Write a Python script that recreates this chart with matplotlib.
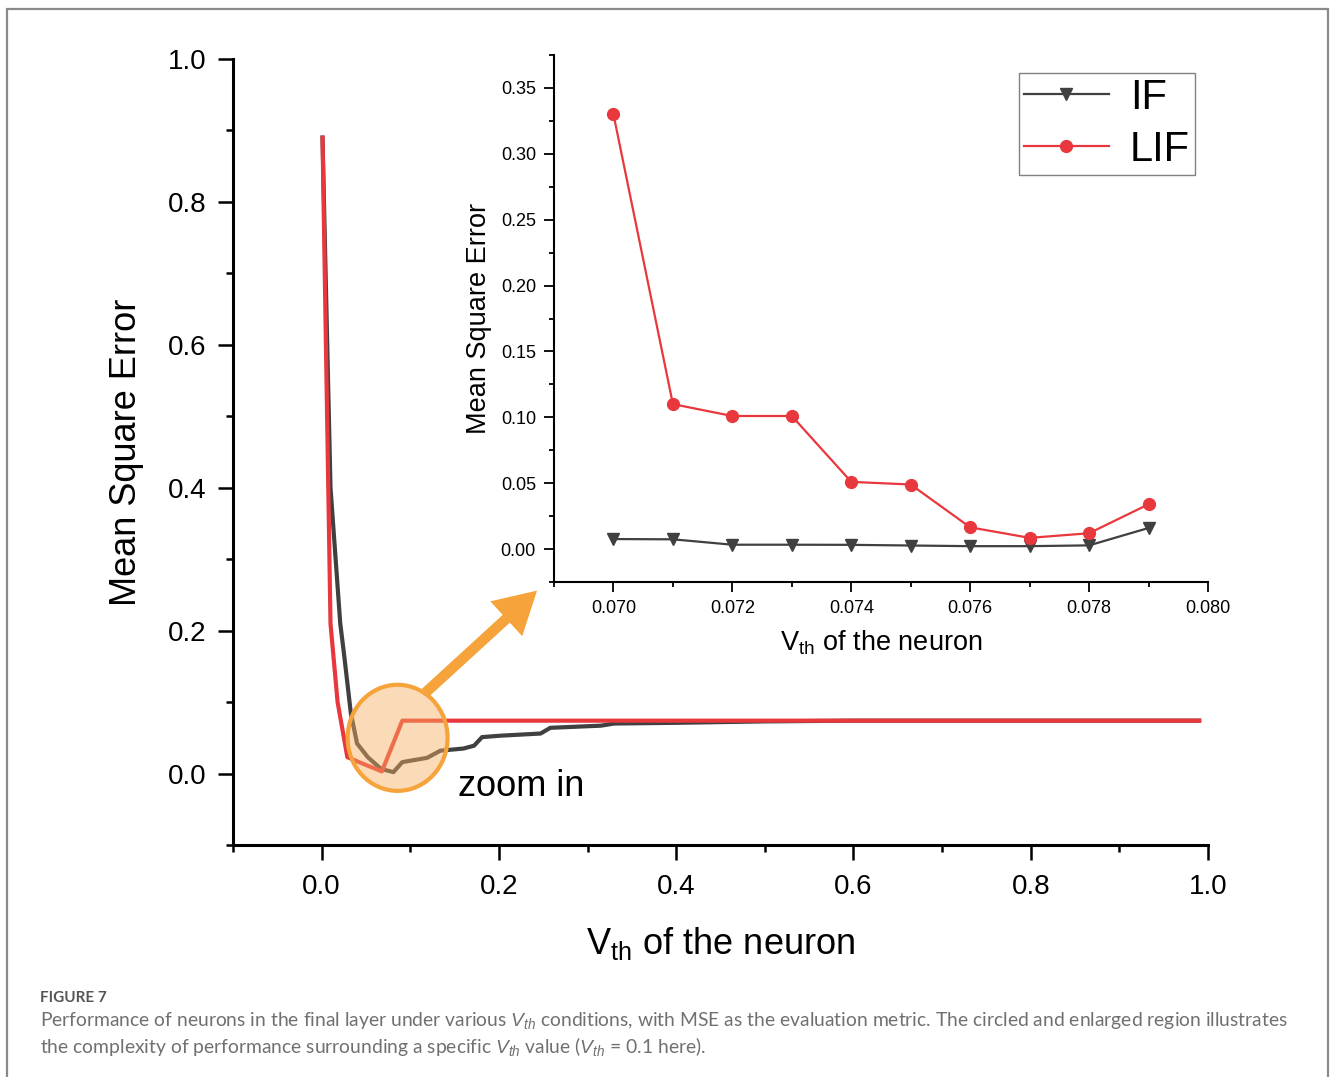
import matplotlib
matplotlib.use("Agg")
import matplotlib.pyplot as plt
from matplotlib.patches import Ellipse, Rectangle, FancyArrowPatch
from matplotlib.ticker import MultipleLocator

plt.rcParams['font.family'] = ['Liberation Sans', 'DejaVu Sans']
plt.rcParams['mathtext.fontset'] = 'custom'
plt.rcParams['mathtext.rm'] = 'Liberation Sans'
plt.rcParams['mathtext.it'] = 'Liberation Sans:italic'

# ---- data: main plot ----
if_main_x = [0.001, 0.010, 0.021, 0.025, 0.033, 0.040, 0.052, 0.067, 0.081, 0.091,
             0.119, 0.134, 0.160, 0.172, 0.181, 0.202, 0.247, 0.258, 0.315, 0.330,
             0.400, 0.500, 0.600, 0.990]
if_main_y = [0.89, 0.40, 0.21, 0.17, 0.084, 0.042, 0.023, 0.0065, 0.002, 0.016,
             0.022, 0.032, 0.035, 0.039, 0.051, 0.053, 0.056, 0.064, 0.067, 0.070,
             0.071, 0.073, 0.074, 0.074]
lif_main_x = [0.001, 0.010, 0.018, 0.029, 0.046, 0.068, 0.091, 0.990]
lif_main_y = [0.89, 0.21, 0.10, 0.023, 0.014, 0.003, 0.074, 0.074]

# ---- data: inset ----
inset_x = [0.070, 0.071, 0.072, 0.073, 0.074, 0.075, 0.076, 0.077, 0.078, 0.079]
if_inset = [0.0076, 0.0074, 0.0033, 0.0033, 0.0032, 0.0027, 0.0022, 0.0022, 0.0028, 0.0160]
lif_inset = [0.330, 0.110, 0.101, 0.101, 0.051, 0.049, 0.0165, 0.0085, 0.0120, 0.0340]

series_names = ["IF", "LIF"]
caption_title = "FIGURE 7"
caption_text = ("Performance of neurons in the final layer under various $V_{th}$ conditions, "
                "with MSE as the evaluation metric. The circled and enlarged region illustrates\n"
                "the complexity of performance surrounding a specific $V_{th}$ value "
                "($V_{th}$ = 0.1 here).")

C_IF = '#404040'
C_LIF = '#e8383d'
C_OR = '#f5a33a'

W, H = 1330, 1077
fig = plt.figure(figsize=(W / 100, H / 100), dpi=100)

# outer frame
fig.patches.append(Rectangle((7 / W, -0.02), (1328 - 7) / W, 1 - 9 / H + 0.02,
                             transform=fig.transFigure, fill=False,
                             edgecolor='#8a8a8a', lw=1.6, zorder=0))

# ---- main axes ----
ax = fig.add_axes([233 / W, 1 - 845 / H, (1208 - 233) / W, (845 - 59) / H])
ax.plot(if_main_x, if_main_y, color=C_IF, lw=3.0, solid_joinstyle='round')
ax.plot(lif_main_x, lif_main_y, color=C_LIF, lw=3.0, solid_joinstyle='round')
ax.set_xlim(-0.1, 1.0)
ax.set_ylim(-0.1, 1.0)
ax.xaxis.set_minor_locator(MultipleLocator(0.1))
ax.yaxis.set_minor_locator(MultipleLocator(0.1))
ax.set_xticks([0.0, 0.2, 0.4, 0.6, 0.8, 1.0])
ax.set_yticks([0.0, 0.2, 0.4, 0.6, 0.8, 1.0])
ax.set_xticklabels(['0.0', '0.2', '0.4', '0.6', '0.8', '1.0'])
ax.set_yticklabels(['0.0', '0.2', '0.4', '0.6', '0.8', '1.0'])
for s in ['top', 'right']:
    ax.spines[s].set_visible(False)
for s in ['left', 'bottom']:
    ax.spines[s].set_linewidth(2.2)
ax.tick_params(which='major', direction='out', length=11, width=1.8, labelsize=20, pad=8)
ax.tick_params(axis='x', which='major', pad=10)
ax.tick_params(which='minor', direction='out', length=5, width=1.8)
ax.set_ylabel('Mean Square Error', fontsize=26, labelpad=17)
ax.set_xlabel('V$_{\\mathrm{th}}$ of the neuron', fontsize=26, labelpad=18)

# circle highlight
circ = Ellipse((0.0857, 0.050), 100 / 887, 106 / 714, facecolor='#f7b060', alpha=0.45,
               edgecolor='none', zorder=5)
ax.add_patch(circ)
circ_e = Ellipse((0.0857, 0.050), 100 / 887, 106 / 714, facecolor='none',
                 edgecolor=C_OR, lw=3.0, zorder=6)
ax.add_patch(circ_e)

arrow = FancyArrowPatch((0.117, 0.113), (0.243, 0.256),
                        arrowstyle='simple,head_width=1.7,head_length=1.5,tail_width=0.38',
                        mutation_scale=20, color=C_OR, lw=0, zorder=6,
                        shrinkA=0, shrinkB=0)
ax.add_patch(arrow)
ax.text(0.225, -0.018, 'zoom in', fontsize=26, ha='center', va='center', zorder=7)

# ---- inset ----
axi = fig.add_axes([554 / W, 1 - 582 / H, (1208 - 554) / W, (582 - 55) / H])
axi.plot(inset_x, if_inset, color=C_IF, lw=1.6, marker='v', ms=9, label=series_names[0])
axi.plot(inset_x, lif_inset, color=C_LIF, lw=1.6, marker='o', ms=8.5, label=series_names[1])
axi.set_xlim(0.069, 0.080)
axi.set_ylim(-0.025, 0.375)
axi.set_xticks([0.070, 0.072, 0.074, 0.076, 0.078, 0.080])
axi.set_xticklabels(['0.070', '0.072', '0.074', '0.076', '0.078', '0.080'])
axi.xaxis.set_minor_locator(MultipleLocator(0.001))
axi.set_yticks([0.0, 0.05, 0.10, 0.15, 0.20, 0.25, 0.30, 0.35])
axi.set_yticklabels(['0.00', '0.05', '0.10', '0.15', '0.20', '0.25', '0.30', '0.35'])
axi.yaxis.set_minor_locator(MultipleLocator(0.025))
for s in ['top', 'right']:
    axi.spines[s].set_visible(False)
for s in ['left', 'bottom']:
    axi.spines[s].set_linewidth(1.5)
axi.patch.set_alpha(0)
axi.tick_params(which='major', direction='out', length=7, width=1.3, labelsize=13, pad=6)
axi.tick_params(which='minor', direction='out', length=3.5, width=1.3)
axi.set_ylabel('Mean Square Error', fontsize=19.5, labelpad=6)
axi.set_xlabel('V$_{\\mathrm{th}}$ of the neuron', fontsize=19.5, labelpad=8)

leg = axi.legend(loc='upper right', bbox_to_anchor=(1 - 13 / 654, 1 - 18 / 527),
                 fontsize=30, frameon=True, fancybox=False, edgecolor='#808080',
                 framealpha=1, handlelength=2.05, handletextpad=0.5, borderpad=0.12,
                 labelspacing=0.28, borderaxespad=0)
leg.get_frame().set_linewidth(1.0)

# ---- caption ----
fig.text(40 / W, 1 - 998 / H, caption_title, fontsize=11, color='#555555',
         family=['Lato', 'DejaVu Sans'], weight='bold', va='center')
fig.text(40 / W, 1 - 1034 / H, caption_text, fontsize=13.9, color='#707070',
         family=['Lato', 'DejaVu Sans'], va='center', linespacing=1.2)

fig.savefig('out.png', dpi=100)
